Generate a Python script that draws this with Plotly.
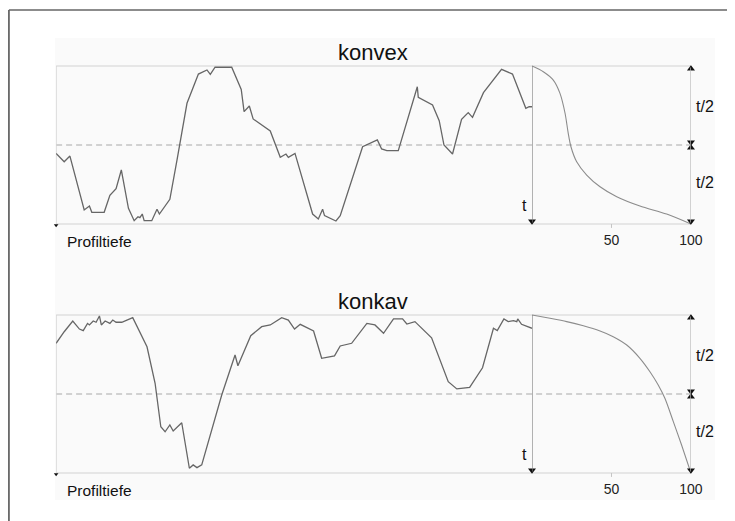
import plotly.graph_objects as go

# ---------------- data ----------------
# profile position (0..100 % of sampling length) and height (0 = bottom, 100 = top)
konvex_x = [0, 1.7, 2.9, 5.9, 7.0, 7.5, 10.1, 11.3, 12.6, 13.7, 15.2, 16.4, 17.2, 17.6, 18.1, 18.5,
            20.1, 21.2, 21.7, 23.9, 25.4, 27.5, 29.9, 31.7, 32.4, 33.4, 36.9, 38.9, 39.5, 40.6, 41.4,
            45.0, 47.1, 48.3, 48.8, 50.2, 53.9, 55.1, 56.0, 56.4, 58.8, 59.7, 64.4, 67.5, 68.4, 69.5,
            71.9, 75.4, 75.9, 76.1, 79.1, 80.5, 81.5, 83.3, 85.2, 86.6, 87.5, 89.8, 93.6, 95.9, 97.0,
            98.7, 99.4, 100]
konvex_h = [44.7, 39.4, 43.0, 8.9, 11.4, 7.4, 7.4, 18.1, 22.4, 34.2, 9.9, 2.1, 4.6, 4.0, 6.3, 2.1,
            2.1, 9.3, 6.3, 15.6, 40.5, 76.4, 94.9, 97.5, 94.7, 99.2, 99.2, 85.2, 71.1, 74.7, 66.5,
            58.9, 42.2, 44.3, 42.2, 44.7, 6.3, 3.2, 9.3, 5.3, 1.9, 5.3, 48.9, 53.2, 47.5, 46.4,
            46.4, 80.6, 86.9, 80.2, 75.3, 65.4, 50.0, 44.3, 66.2, 70.5, 67.5, 83.1, 97.9, 94.9, 85.9,
            73.2, 74.2, 74.2]

konkav_x = [0, 1.7, 3.5, 4.9, 5.7, 6.6, 7.0, 7.8, 8.4, 9.1, 9.5, 10.3, 11.3, 11.9, 12.6, 13.8, 16.1,
            17.6, 19.1, 20.8, 22.0, 22.9, 23.9, 24.6, 26.4, 28.0, 28.8, 29.6, 30.6, 34.8, 37.6, 38.2,
            40.9, 43.2, 45.0, 47.4, 48.8, 50.1, 51.3, 54.1, 55.8, 58.5, 59.7, 62.1, 65.3, 67.0, 68.8,
            70.9, 72.8, 73.7, 75.4, 78.9, 82.4, 84.2, 86.9, 89.6, 91.9, 92.7, 94.1, 95.0, 96.1, 96.8,
            97.0, 97.8, 100]
konkav_h = [82.1, 89.4, 96.2, 91.1, 90.1, 94.7, 93.7, 96.2, 95.4, 99.4, 93.7, 96.2, 94.7, 96.8, 95.4,
            95.4, 98.3, 89.4, 79.9, 56.8, 29.3, 26.1, 30.4, 26.6, 31.8, 3.0, 5.1, 3.4, 5.1, 49.4, 74.7,
            67.9, 86.9, 92.6, 93.7, 98.3, 96.8, 91.1, 94.1, 89.9, 72.6, 74.1, 80.4, 82.1, 94.7, 93.7,
            88.4, 97.5, 97.5, 94.3, 95.8, 85.6, 57.8, 53.2, 54.2, 66.6, 91.6, 90.1, 97.5, 95.8, 96.4,
            95.8, 97.5, 94.1, 91.6]

# Abbott (material ratio) curves: ratio in %, height
konvex_ratio = [0, 7.1, 13.4, 17.6, 20.8, 22.8, 24.5, 28.1, 34.4, 42.8, 53.3, 67.9, 84.7, 100]
konvex_level = [100, 96.4, 91.1, 82.7, 70.1, 57.4, 48.9, 39.4, 31.0, 23.6, 17.3, 11.4, 6.3, 0]
konkav_ratio = [0, 11.3, 21.8, 32.3, 42.8, 51.1, 59.6, 67.9, 74.2, 79.4, 83.6, 88.9, 94.1, 100]
konkav_level = [100, 97.9, 95.8, 93.2, 89.9, 86.3, 81.0, 72.6, 64.1, 55.7, 47.3, 32.5, 17.7, 0]

titles = ["konvex", "konkav"]
ratio_ticks = [50, 100]
ratio_ticklabels = ["50", "100"]

# ---------------- layout geometry ----------------
OFF = 8                               # html body margin
SX = 0.984                            # horizontal capture scale observed
W, H = 739, 513
FONT = "Liberation Sans, Arial, sans-serif"


def fx(px):
    return (px / SX - OFF) / W


def fy(py):
    return 1 - (py - OFF) / H


XL, XM, XR = 56, 532, 691           # left, divider, right (screen px)
panels = [(66, 224), (315, 473)]    # top, bottom (screen px) of each panel
PAD = 3                              # y range padding in data units

fig = go.Figure()
shapes, annotations = [], []

for i, (ptop, pbot) in enumerate(panels):
    r = i + 1
    xa_p = "x" if r == 1 else "x3"
    xa_b = "x2" if r == 1 else "x4"
    ya = "y" if r == 1 else "y2"
    pxu = (pbot - ptop) / 100.0
    dom = [fy(pbot + PAD * pxu), fy(ptop - PAD * pxu)]

    fig.layout[("xaxis" if r == 1 else "xaxis3")] = dict(
        domain=[fx(XL), fx(XM)], range=[0, 100], anchor=ya, visible=False)
    fig.layout[("xaxis2" if r == 1 else "xaxis4")] = dict(
        domain=[fx(XM), fx(XR)], range=[0, 100], anchor=ya, showgrid=False, zeroline=False,
        showline=False, ticks="", tickvals=ratio_ticks, ticktext=ratio_ticklabels,
        tickfont=dict(family=FONT, size=14, color="#222"), ticklabelstandoff=1)
    fig.layout[("yaxis" if r == 1 else "yaxis2")] = dict(
        domain=dom, range=[-PAD, 100 + PAD], anchor=xa_p, visible=False)

    px = konvex_x if r == 1 else konkav_x
    ph = konvex_h if r == 1 else konkav_h
    br = konvex_ratio if r == 1 else konkav_ratio
    bl = konvex_level if r == 1 else konkav_level

    # frame lines
    for yv in (0, 100):
        shapes.append(dict(type="line", xref="paper", yref=ya, x0=fx(XL), x1=fx(XR), y0=yv, y1=yv,
                           line=dict(color="#d2d2d2", width=1.2), layer="below"))
    shapes.append(dict(type="line", xref=xa_p, yref=ya, x0=0, x1=0, y0=0, y1=100,
                       line=dict(color="#d2d2d2", width=1.2), layer="below"))
    shapes.append(dict(type="line", xref="paper", yref=ya, x0=fx(XL), x1=fx(XR), y0=50, y1=50,
                       line=dict(color="#a8a8a8", width=1, dash="6px,4px"), layer="below"))
    # divider (t arrow)
    shapes.append(dict(type="line", xref=xa_b, yref=ya, x0=0, x1=0, y0=1, y1=100,
                       line=dict(color="#808080", width=1.2)))
    # right double arrows (t/2)
    shapes.append(dict(type="line", xref=xa_b, yref=ya, x0=100, x1=100, y0=1, y1=99,
                       line=dict(color="#bdbdbd", width=1.3)))
    # tick at 50
    shapes.append(dict(type="line", xref=xa_b, yref=ya, x0=50, x1=50, y0=0, y1=-2.5,
                       line=dict(color="#c4c4c4", width=1)))

    # profile line
    fig.add_trace(go.Scatter(x=px, y=ph, xaxis=xa_p, yaxis=ya, mode="lines",
                             line=dict(color="#666666", width=1.3), hoverinfo="skip"))
    # Abbott curve
    fig.add_trace(go.Scatter(x=br, y=bl, xaxis=xa_b, yaxis=ya, mode="lines",
                             line=dict(color="#8c8c8c", width=1.1, shape="spline", smoothing=0.8),
                             hoverinfo="skip"))
    # arrowheads
    fig.add_trace(go.Scatter(x=[0, 100, 100], y=[1.8, 1.8, 51.8], xaxis=xa_b, yaxis=ya, mode="markers",
                             marker=dict(symbol="triangle-down", size=7, color="#111"),
                             cliponaxis=False, hoverinfo="skip"))
    fig.add_trace(go.Scatter(x=[100, 100], y=[98.2, 48.2], xaxis=xa_b, yaxis=ya, mode="markers",
                             marker=dict(symbol="triangle-up", size=7, color="#111"),
                             cliponaxis=False, hoverinfo="skip"))
    fig.add_trace(go.Scatter(x=[0], y=[-0.8], xaxis=xa_p, yaxis=ya, mode="markers",
                             marker=dict(symbol="triangle-down", size=4, color="#111"),
                             cliponaxis=False, hoverinfo="skip"))

    # texts
    annotations.append(dict(text=titles[i], xref="paper", yref="paper", x=fx(373),
                            y=fy(ptop - 13.5), showarrow=False, xanchor="center", yanchor="middle",
                            font=dict(family=FONT, size=22, color="#111")))
    annotations.append(dict(text="Profiltiefe", xref="paper", yref="paper", x=fx(65),
                            y=fy(pbot + 17.5), showarrow=False, xanchor="left", yanchor="middle",
                            font=dict(family=FONT, size=15.5, color="#111")))
    annotations.append(dict(text="t", xref=xa_p, yref=ya, x=98.4, y=12, showarrow=False,
                            xanchor="center", yanchor="middle",
                            font=dict(family=FONT, size=16, color="#111")))
    for yv in (74.5, 26.3):
        annotations.append(dict(text="t/2", xref="paper", yref=ya, x=fx(694), y=yv, showarrow=False,
                                xanchor="left", yanchor="middle",
                                font=dict(family=FONT, size=16, color="#111")))

# page background / frame
shapes.insert(0, dict(type="rect", xref="paper", yref="paper", x0=fx(55), x1=fx(715),
                      y0=fy(500), y1=fy(38), fillcolor="#fafafa", line=dict(width=0),
                      layer="below"))
shapes.append(dict(type="line", xref="paper", yref="paper", x0=fx(8.8), x1=fx(8.8), y0=0, y1=fy(10),
                   line=dict(color="#555", width=1.6)))
shapes.append(dict(type="line", xref="paper", yref="paper", x0=fx(8.8), x1=1, y0=fy(10), y1=fy(10),
                   line=dict(color="#666", width=1.6)))

fig.update_layout(width=W, height=H, margin=dict(l=0, r=0, t=0, b=0),
                  paper_bgcolor="white", plot_bgcolor="rgba(0,0,0,0)", showlegend=False,
                  shapes=shapes, annotations=annotations,
                  font=dict(family=FONT))

fig.write_html("out.html")
